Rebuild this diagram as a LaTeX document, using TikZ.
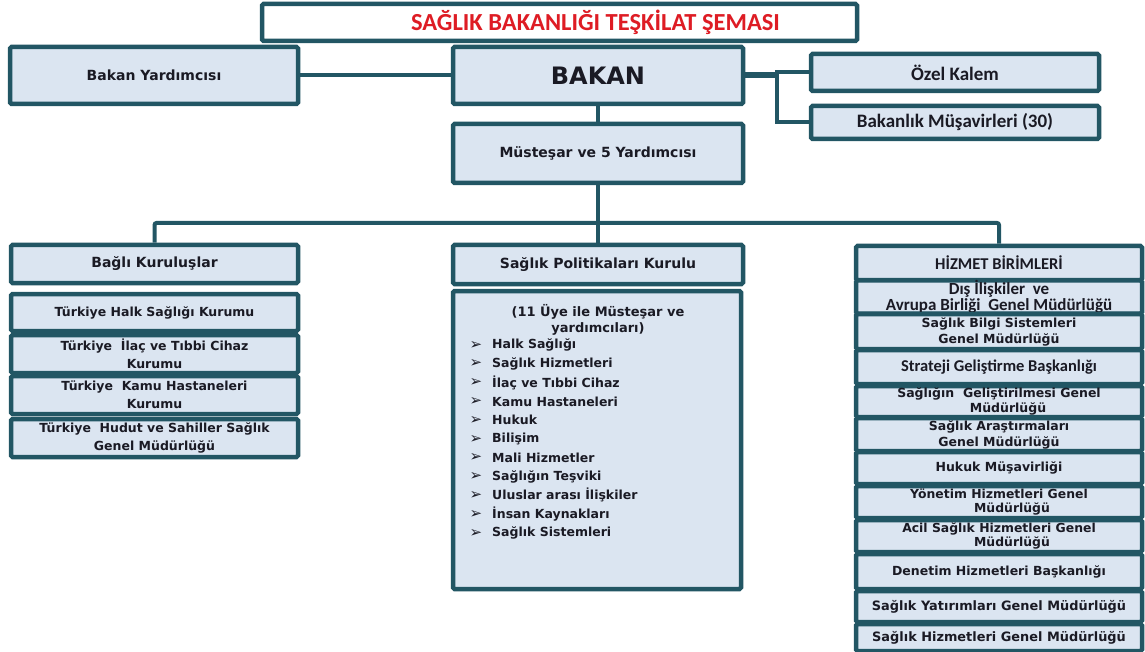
\documentclass[tikz,border=0pt]{standalone}
\usepackage{fontspec}
\setmainfont{DejaVu Sans}
\newfontfamily\tahf{DejaVu Sans}
\newfontfamily\calf{Carlito}
\newfontfamily\symf{DejaVu Sans}
\definecolor{bord}{RGB}{34,86,100}
\definecolor{boxfill}{RGB}{219,229,241}
\definecolor{txt}{RGB}{26,26,36}
\definecolor{titlered}{RGB}{222,28,36}
\tikzset{
  box/.style={draw=bord, fill=boxfill, line width=4.5pt, rounded corners=1.5pt, inner sep=0pt, align=center, text=txt, font=\tahf\bfseries\fontsize{12.5}{16}\selectfont},
  sbox/.style={box, font=\tahf\bfseries\fontsize{12.4}{14.5}\selectfont},
  lbox/.style={box, font=\tahf\bfseries\fontsize{12.5}{18}\selectfont},
  calbox/.style={box, font=\calf\bfseries\fontsize{16.5}{16}\selectfont},
  bigbox/.style={box, font=\tahf\bfseries\fontsize{14}{16}\selectfont},
  titlebox/.style={box, fill=white, text=titlered, font=\calf\bfseries\fontsize{24.5}{26}\selectfont},
  conn/.style={draw=bord, line width=4pt},
  itemtext/.style={inner sep=0pt, text=txt, font=\tahf\bfseries\fontsize{12.5}{15.5}\selectfont},
  bultext/.style={inner sep=0pt, text=txt, font=\symf\bfseries\fontsize{15}{16}\selectfont},
}
\newcommand\mkbox[7][box]{\node[#1, minimum width={#5-#3}, minimum height={#6-#4}] (#2) at ({(#3+#5)/2},{(#4+#6)/2}) {#7};}
\begin{document}
\begin{tikzpicture}[x=1pt,y=-1pt]
\useasboundingbox (0,0) rectangle (1145,652);
\mkbox[titlebox]{title}{262}{4}{857}{41}{\hspace*{72pt}SAĞLIK BAKANLIĞI TEŞKİLAT ŞEMASI}
\mkbox[bigbox]{by}{10}{47}{298}{104}{Bakan Yardımcısı}
\mkbox[box, font=\tahf\bfseries\fontsize{24}{26}\selectfont]{bakan}{453}{47}{743}{104}{BAKAN}
\mkbox[calbox, font=\calf\bfseries\fontsize{19}{20}\selectfont]{ozel}{811}{54}{1099}{91}{Özel Kalem}
\mkbox[calbox, font=\calf\bfseries\fontsize{19}{20}\selectfont]{musav}{811}{106}{1099}{139}{Bakanlık Müşavirleri (30)}
\mkbox[bigbox]{must}{453}{124}{743}{183}{Müsteşar ve 5 Yardımcısı}
\mkbox[bigbox]{bagli}{11}{245}{298}{283}{Bağlı Kuruluşlar}
\mkbox[bigbox]{pol}{453}{245}{743}{284}{Sağlık Politikaları Kurulu}
\mkbox[calbox, font=\calf\bfseries\fontsize{16.5}{17}\selectfont]{hiz}{856}{246}{1142}{280}{HİZMET BİRİMLERİ}
% left column
\mkbox[lbox]{halk}{11}{294}{298}{331}{Türkiye Halk Sağlığı Kurumu}
\mkbox[lbox]{ilac}{11}{335}{298}{373}{Türkiye~ İlaç ve Tıbbi Cihaz\\Kurumu}
\mkbox[lbox]{kamu}{11}{376}{298}{414}{Türkiye~ Kamu Hastaneleri\\Kurumu}
\mkbox[lbox]{hudut}{11}{419}{298}{457}{Türkiye~ Hudut ve Sahiller Sağlık\\Genel Müdürlüğü}
% centre board
\mkbox{kurul}{453}{291}{741}{589}{}
\node[itemtext, align=center, font=\tahf\bfseries\fontsize{13}{15.5}\selectfont] (khead) at (598,320) {(11 Üye ile Müsteşar ve\\yardımcıları)};
\foreach \t [count=\i] in {Halk Sağlığı,Sağlık Hizmetleri,İlaç ve Tıbbi Cihaz,Kamu Hastaneleri,Hukuk,Bilişim,Mali Hizmetler,Sağlığın Teşviki,Uluslar arası İlişkiler,İnsan Kaynakları,Sağlık Sistemleri}{
  \node[bultext] (bul\i) at (476,{345+(\i-1)*18.8}) {➢};
  \node[itemtext, anchor=west] (item\i) at (492,{345+(\i-1)*18.8}) {\t};
}
% right column
\mkbox[calbox, font=\calf\bfseries\fontsize{17}{16}\selectfont]{dis}{856}{281}{1142}{313}{Dış İlişkiler~ ve\\Avrupa Birliği~ Genel Müdürlüğü}
\mkbox{bilgi}{856}{314}{1142}{349}{Sağlık Bilgi Sistemleri\\Genel Müdürlüğü}
\mkbox[calbox]{strat}{856}{350}{1142}{384}{Strateji Geliştirme Başkanlığı}
\mkbox[box, font=\tahf\bfseries\fontsize{12.5}{15}\selectfont]{gel}{856}{386}{1142}{417}{Sağlığın~ Geliştirilmesi Genel\\\hspace*{18pt}Müdürlüğü}
\mkbox{arast}{856}{418}{1142}{451}{Sağlık Araştırmaları\\Genel Müdürlüğü}
\mkbox{hukuk}{856}{452}{1142}{484}{Hukuk Müşavirliği}
\mkbox[sbox]{yon}{856}{486}{1142}{518}{Yönetim Hizmetleri Genel\\\hspace*{26pt}Müdürlüğü}
\mkbox[sbox]{acil}{856}{520}{1142}{552}{Acil Sağlık Hizmetleri Genel\\\hspace*{26pt}Müdürlüğü}
\mkbox{denet}{856}{554}{1142}{589}{Denetim Hizmetleri Başkanlığı}
\mkbox[box, font=\tahf\bfseries\fontsize{12.9}{16}\selectfont]{yat}{856}{591}{1142}{622}{Sağlık Yatırımları Genel Müdürlüğü}
\mkbox[box, font=\tahf\bfseries\fontsize{12.9}{16}\selectfont]{hizm}{856}{624}{1142}{651}{Sağlık Hizmetleri Genel Müdürlüğü}
% connectors
\coordinate (jr) at (777,0);
\coordinate (jrt) at (779,0);
\coordinate (bus) at (0,223);
\draw[conn] (by.east) -- (bakan.west);
\draw[conn, line width=6pt] (bakan.east) -- (bakan.east -| jrt);
\draw[conn] (ozel.west) -- (ozel.west -| jr) -- (musav.west -| jr) -- (musav.west);
\draw[conn] (bakan.south) -- (must.north);
\draw[conn] (must.south) -- (pol.north);
\draw[conn, rounded corners=2pt] (bagli.north) -- (bagli.north |- bus) -- (hiz.north |- bus) -- (hiz.north);
\end{tikzpicture}
\end{document}
